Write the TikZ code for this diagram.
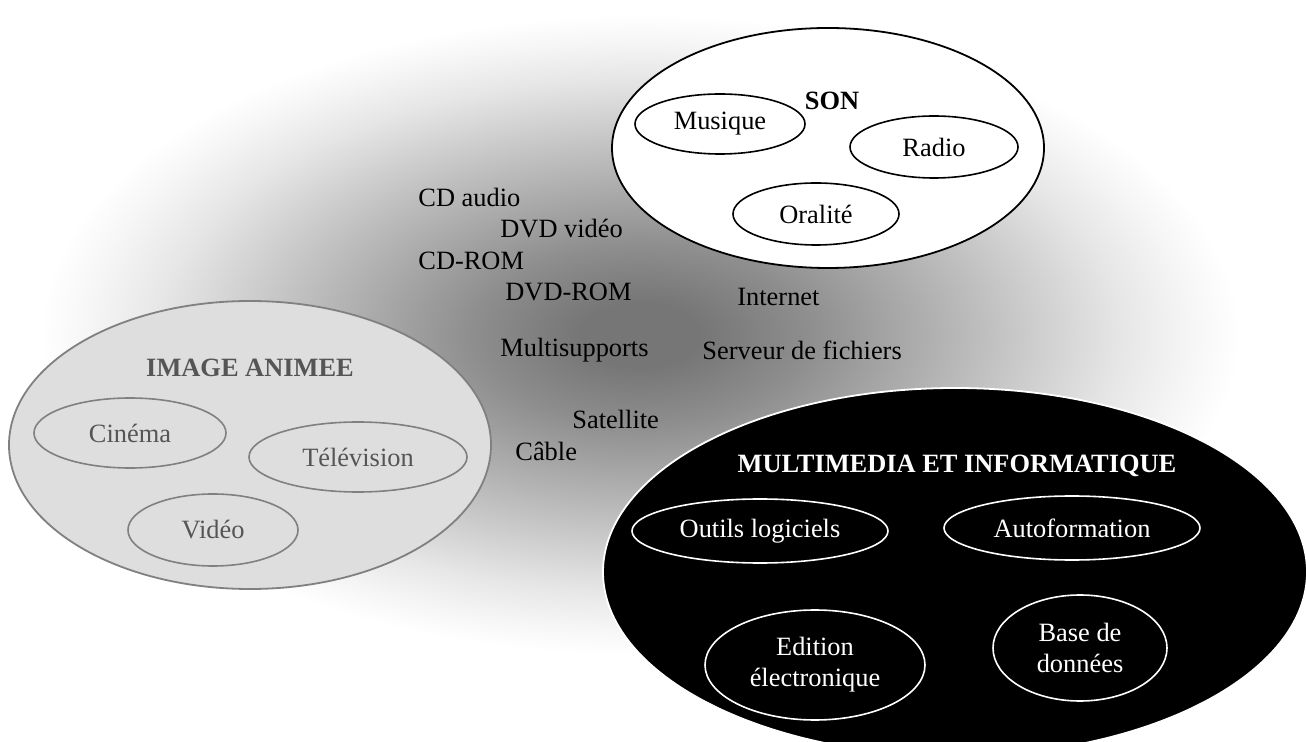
\documentclass[tikz,border=0pt]{standalone}
\usepackage{fontspec}
\setmainfont{Liberation Serif}
\usepackage{xcolor}
\usetikzlibrary{shapes.geometric}
\definecolor{hazecore}{HTML}{767676}
\definecolor{hazeinner}{HTML}{8E8E8E}
\definecolor{hazemid}{HTML}{C0C0C0}
\definecolor{hazeouter}{HTML}{E6E6E6}
\definecolor{hazeedge}{HTML}{F6F6F6}
\definecolor{imagefill}{HTML}{DEDEDE}
\definecolor{imageline}{HTML}{808080}
\definecolor{imagetext}{HTML}{555555}
\pgfdeclareradialshading{haze}{\pgfpoint{0bp}{0bp}}{color(0bp)=(hazecore); color(2.5bp)=(hazecore); color(7bp)=(hazeinner); color(14.5bp)=(hazemid); color(20bp)=(hazeouter); color(23bp)=(hazeedge); color(25bp)=(white); color(50bp)=(white)}

\begin{document}
\begin{tikzpicture}[x=0.5pt,y=-0.5pt]
                % Stili per le ellissi e le etichette
                \tikzset{
                    big ellipse/.style={
                        ellipse,
                        line width=0.9pt,
                        inner sep=0pt
                    },
                    small ellipse/.style={
                        ellipse,
                        line width=0.8pt,
                        inner sep=0pt,
                        align=center
                    },
                    free label/.style={
                        anchor=west,
                        inner sep=0pt
                    }
                }
                \fontsize{13.2}{15.5}\selectfont
                \useasboundingbox (0,0) rectangle (1306,742);

                % Sfondo sfumato
                \shade[shading=haze] (640,335) ellipse (600 and 320);

                % SON
                \node[big ellipse, draw=black, fill=white, minimum width=216pt, minimum height=120pt] (son) at (828,148) {};
                \node[font=\bfseries] (sontitle) at (832,101) {SON};
                \node[small ellipse, draw=black, minimum width=85pt, minimum height=30pt] (musique) at (720,124) {Musique};
                \node[small ellipse, draw=black, minimum width=84pt, minimum height=31pt] (radio) at (934,147) {Radio};
                \node[small ellipse, draw=black, minimum width=83pt, minimum height=31pt] (oralite) at (816,214) {Oralité};

                % IMAGE ANIMEE
                \node[big ellipse, draw=imageline, fill=imagefill, minimum width=241pt, minimum height=144pt] (image) at (250,445) {};
                \node[font=\bfseries, text=imagetext] (imagetitle) at (250,368) {IMAGE ANIMEE};
                \node[small ellipse, draw=imageline, text=imagetext, minimum width=96pt, minimum height=35pt] (cinema) at (130,433) {Cinéma};
                \node[small ellipse, draw=imageline, text=imagetext, minimum width=109pt, minimum height=35pt] (television) at (358,457) {Télévision};
                \node[small ellipse, draw=imageline, text=imagetext, minimum width=85pt, minimum height=36pt] (video) at (213,530) {Vidéo};

                % MULTIMEDIA ET INFORMATIQUE
                \node[big ellipse, draw=white, fill=black, minimum width=352pt, minimum height=184pt] (multi) at (955,572) {};
                \node[font=\bfseries, text=white] (multititle) at (957,466) {MULTIMEDIA ET INFORMATIQUE};
                \node[small ellipse, draw=white, text=white, minimum width=128pt, minimum height=32pt] (outils) at (760,531) {Outils logiciels};
                \node[small ellipse, draw=white, text=white, minimum width=128pt, minimum height=32pt] (autoformation) at (1072,528) {Autoformation};
                \node[small ellipse, draw=white, text=white, minimum width=110pt, minimum height=55pt] (edition) at (815,665) {Edition\\électronique};
                \node[small ellipse, draw=white, text=white, minimum width=87pt, minimum height=53pt] (base) at (1080,648) {Base de\\données};

                % Supports et reseaux
                \node[free label] (cdaudio) at (418,197) {CD audio};
                \node[free label] (dvdvideo) at (500,229) {DVD vidéo};
                \node[free label] (cdrom) at (418,261) {CD-ROM};
                \node[free label] (dvdrom) at (505,292) {DVD-ROM};
                \node[free label] (internet) at (737,297) {Internet};
                \node[free label] (multisupports) at (500,350) {Multisupports};
                \node[free label] (serveur) at (702,350) {Serveur de fichiers};
                \node[free label] (satellite) at (572,419) {Satellite};
                \node[free label] (cable) at (515,451) {Câble};
\end{tikzpicture}
\end{document}
